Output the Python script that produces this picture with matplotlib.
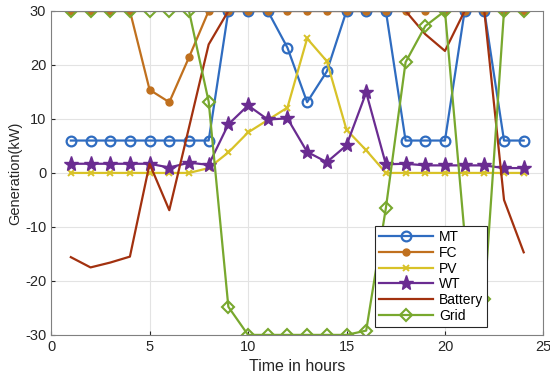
import numpy as np
import matplotlib
matplotlib.use("Agg")
import matplotlib.pyplot as plt

plt.rcParams['font.family'] = ['Liberation Sans', 'DejaVu Sans']
plt.rcParams['axes.unicode_minus'] = False

# hourly generation (kW)
hours = list(range(1, 25))
mt = [6, 6, 6, 6, 6, 6, 6, 6, 30, 30, 30, 23.2, 13.1, 18.8, 30, 30, 30, 6, 6, 6, 30, 30, 6, 6]
fc = [30, 30, 30, 30, 15.4, 13.1, 21.4, 30, 30, 30, 30, 30, 30, 30, 30, 30, 30, 30, 30, 30, 30, 30, 30, 30]
pv = [0, 0, 0, 0, 0, 0, 0, 0.9, 3.8, 7.5, 9.8, 12.1, 24.9, 20.7, 8.0, 4.2, 0, 0, 0, 0, 0, 0, 0, 0]
wt = [1.7, 1.7, 1.7, 1.7, 1.7, 1.0, 1.9, 1.5, 9.0, 12.5, 9.9, 10.1, 3.9, 2.0, 5.1, 14.9, 1.6, 1.7, 1.4, 1.4, 1.4, 1.4, 0.9, 0.9]
battery = [-15.6, -17.5, -16.6, -15.5, 1.7, -6.9, 8.4, 23.8, 30, 30, 30, 30, 30, 30, 30, 30, 30, 30, 25.7, 22.6, 30, 30, -5.0, -14.7]
grid_p = [30, 30, 30, 30, 30, 30, 30, 13.2, -24.8, -30, -30, -30, -30, -30, -30, -29.2, -6.5, 20.5, 27.2, 30, -11.5, -23.3, 30, 30]

fig = plt.figure(figsize=(5.5, 3.78), dpi=100)
ax = fig.add_axes([0.093, 0.114, 0.895, 0.857])

lw = 1.6
ax.plot(hours, mt, "-o", color="#2F6CC0", lw=lw, ms=7, mfc="none", mew=1.6, label="MT")
ax.plot(hours, fc, "-o", color="#C0701E", lw=lw, ms=5, label="FC")
ax.plot(hours, pv, "-x", color="#D8C228", lw=lw, ms=5, mew=1.4, label="PV")
ax.plot(hours, wt, "-*", color="#6A2C91", lw=lw, ms=11, label="WT")
ax.plot(hours, battery, "-", color="#A2310F", lw=lw, label="Battery")
ax.plot(hours, grid_p, "-D", color="#78A82E", lw=lw, ms=6, mfc="none", mew=1.5, label="Grid")

ax.set_xlim(0, 25)
ax.set_ylim(-30, 30)
ax.set_xticks([0, 5, 10, 15, 20, 25])
ax.set_yticks([-30, -20, -10, 0, 10, 20, 30])
ax.tick_params(labelsize=10.5, colors="#262626", direction="in", length=3)
ax.grid(True, color="#e3e3e3", lw=0.8)
ax.set_axisbelow(True)
for s in ax.spines.values():
    s.set_color("#808080")
ax.set_xlabel("Time in hours", fontsize=11.5, color="#262626")
ax.set_ylabel("Generation(kW)", fontsize=10.5, color="#262626", labelpad=2)

leg = ax.legend(loc="lower right", bbox_to_anchor=(0.886, 0.025), borderaxespad=0,
                fontsize=10, handlelength=3.9, labelspacing=0.12, borderpad=0.3,
                handletextpad=0.4, fancybox=False, framealpha=1)
leg.get_frame().set_edgecolor("#262626")
leg.get_frame().set_linewidth(0.8)

fig.savefig("out.png", dpi=100)
